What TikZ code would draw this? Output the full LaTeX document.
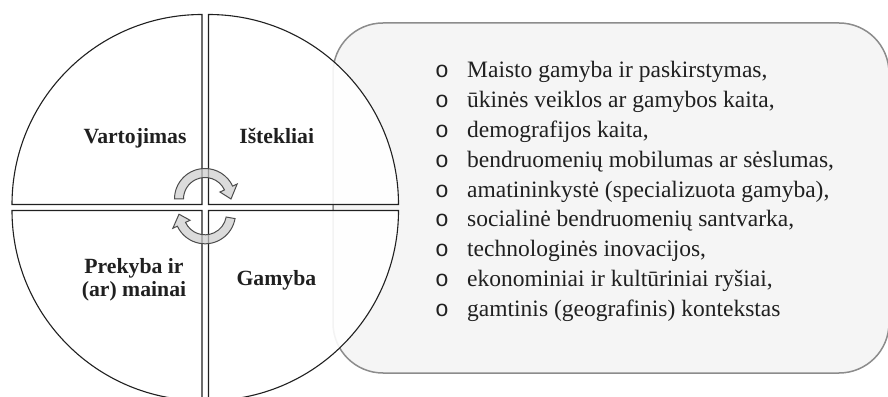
\documentclass[tikz,border=0pt]{standalone}
\usepackage{fontspec}
\setmainfont{Liberation Serif}
\newfontfamily\bulfont{Liberation Mono}
\definecolor{boxfill}{HTML}{F5F5F5}
\definecolor{boxline}{HTML}{8C8C8C}
\definecolor{inkc}{HTML}{202020}
\begin{document}
\begin{tikzpicture}[x=1pt,y=1pt,
  quad/.style={draw=inkc, line width=1.1pt, fill=white, fill opacity=0.9},
  qlabel/.style={font=\fontsize{21.7}{23}\selectfont\bfseries, text=inkc, inner sep=0pt, anchor=base},
  cyc/.style={draw=black!70, line width=1pt, fill=gray!40, fill opacity=0.7},
  item/.style={font=\fontsize{23.5}{29.8}\selectfont, text=inkc, inner sep=0pt, anchor=base west}]
\useasboundingbox (0,0) rectangle (888,396);
% list box
\draw[fill=boxfill, draw=boxline, line width=1.5pt, rounded corners=50pt] (333,23) rectangle (889,373);
% quadrants
\draw[quad] (202,191.5) -- ++(-190pt,0) arc[start angle=180,end angle=90,radius=190pt] -- cycle;
\draw[quad] (208.5,191.5) -- ++(0,190pt) arc[start angle=90,end angle=0,radius=190pt] -- cycle;
\draw[quad] (202,185.5) -- ++(0,-190pt) arc[start angle=270,end angle=180,radius=190pt] -- cycle;
\draw[quad] (208.5,185.5) -- ++(190pt,0) arc[start angle=0,end angle=-90,radius=190pt] -- cycle;
% cycle arrows
\begin{scope}[shift={(205,197)}]
\draw[cyc] (180:30.5) arc[start angle=180,end angle=25,radius=30.5pt] -- (25:35.5) -- (0:26) -- (25:16.5) -- (25:21.5) arc[start angle=25,end angle=180,radius=21.5pt] -- cycle;
\end{scope}
\begin{scope}[shift={(205,182.7)}]
\draw[cyc] (-10:30.5) arc[start angle=-10,end angle=-155,radius=30.5pt] -- (-155:35.5) -- (-178:26) -- (-155:16.5) -- (-155:21.5) arc[start angle=-155,end angle=-10,radius=21.5pt] -- cycle;
\end{scope}
% quadrant labels
\node[qlabel] (vart) at (135,252) {Vartojimas};
\node[qlabel] (istek) at (276.7,252) {Ištekliai};
\node[qlabel] (prek1) at (134,122) {Prekyba ir};
\node[qlabel] (prek2) at (134,99) {(ar) mainai};
\node[qlabel] (gam) at (276.4,110) {Gamyba};
% list
\foreach \t [count=\i] in {{Maisto gamyba ir paskirstymas,},{ūkinės veiklos ar gamybos kaita,},{demografijos kaita,},{bendruomenių mobilumas ar sėslumas,},{amatininkystė (specializuota gamyba),},{socialinė bendruomenių santvarka,},{technologinės inovacijos,},{ekonominiai ir kultūriniai ryšiai,},{gamtinis (geografinis) kontekstas}}
  \node[item] (it\i) at (435,{318-(\i-1)*29.8}) {\makebox[32pt][l]{\bulfont\fontsize{23}{23}\selectfont o}\t};
\end{tikzpicture}
\end{document}
